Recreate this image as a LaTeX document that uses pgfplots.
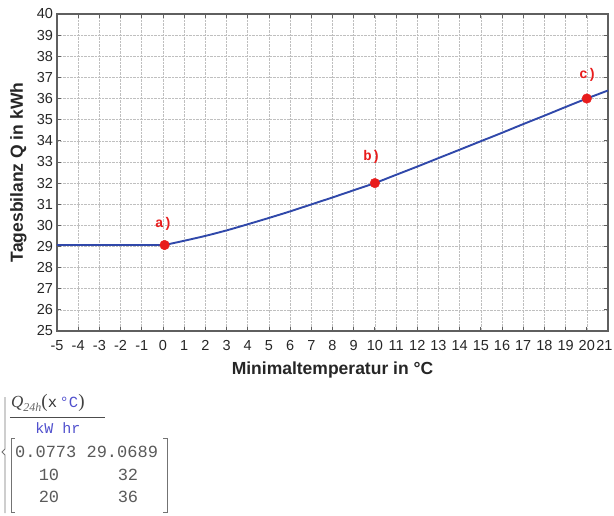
\documentclass[border=0pt]{standalone}
\usepackage{fontspec}
\setmainfont{Liberation Sans}
\newfontfamily\mono{Liberation Mono}
\newfontfamily\seriff{Liberation Serif}
\usepackage{pgfplots}
\pgfplotsset{compat=1.18}
\definecolor{curve}{RGB}{48,72,170}
\definecolor{ptred}{RGB}{232,28,28}
\definecolor{mcblue}{RGB}{80,80,205}
\definecolor{mcgray}{RGB}{90,90,90}
\definecolor{axgray}{RGB}{95,95,95}
\begin{document}
\begin{tikzpicture}
\begin{axis}[
  scale only axis, width=551pt, height=317pt,
  xmin=-5, xmax=21, ymin=25, ymax=40,
  xtick={-5,-4,...,21}, ytick={25,26,...,40},
  xticklabels={-5,-4,-3,-2,-1,0,1,2,3,4,5,6,7,8,9,10,11,12,13,14,15,16,17,18,19,20,{\hspace*{-7pt}21}},
  grid=major,
  major grid style={densely dotted, draw=black!25, line width=0.6pt},
  tick align=inside, major tick length=4pt,
  xtick pos=both, ytick pos=both,
  axis line style={draw=axgray, line width=1.3pt},
  tick style={draw=axgray, line width=0.8pt},
  /pgf/number format/assume math mode=true,
  tick label style={font=\fontsize{14.5}{15}\selectfont, text=black!85},
  xticklabel style={yshift=-6pt},
  yticklabel style={xshift=-0.5pt},
  xlabel={Minimaltemperatur in °C},
  ylabel={Tagesbilanz Q in kWh},
  label style={font=\fontsize{17.5}{18}\selectfont\bfseries, text=black!85},
  xlabel style={at={(axis description cs:0.5,-39/317)}, anchor=center},
  ylabel style={at={(axis description cs:-38.5/551,0.5)}, anchor=center},
  clip=false,
]
\addplot[curve, line width=1.9pt] coordinates {
  (-5,29.0689) (0.0773,29.0689)
};
\addplot[curve, line width=1.9pt, smooth, tension=0.5] coordinates {
  (0.0773,29.0689) (1,29.27) (2,29.50) (3,29.76) (4,30.05)
  (5,30.35) (6,30.66) (7,30.99) (8,31.32) (9,31.66) (10,32.0)
  (11,32.39) (12,32.78) (13,33.18) (14,33.58) (15,33.98) (16,34.38)
  (17,34.79) (18,35.19) (19,35.60) (20,36.0) (21,36.38)
};
\addplot[only marks, mark=*, mark size=4.8pt, draw=ptred, fill=ptred] coordinates {
  (0.0773,29.0689) (10,32) (20,36)
};
\node[text=ptred, font=\mono\bfseries\fontsize{14}{14}\selectfont, xshift=-1pt, yshift=21pt] at (axis cs:0.0773,29.0689) {a)};
\node[text=ptred, font=\mono\bfseries\fontsize{14}{14}\selectfont, xshift=-3pt, yshift=26pt] at (axis cs:10,32) {b)};
\node[text=ptred, font=\mono\bfseries\fontsize{14}{14}\selectfont, xshift=1pt, yshift=24pt] at (axis cs:20,36) {c)};
\end{axis}
% Mathcad-style result block below the chart
\draw[black!55, line width=0.8pt] (-52pt,-66pt) -- (-52pt,-118pt) -- (-55pt,-121pt) -- (-52pt,-124pt) -- (-52pt,-182pt);
\node[anchor=west, inner sep=0pt] at (-46pt,-72pt) {{\seriff\itshape\fontsize{17}{17}\selectfont\color{black!75}Q}\raisebox{-4pt}{\seriff\itshape\fontsize{12}{12}\selectfont\color{black!60}24h}{\seriff\fontsize{19}{19}\selectfont\color{black!75}(}{\mono\fontsize{15.5}{15.5}\selectfont\color{black!80}x\,}{\mono\fontsize{15.5}{15.5}\selectfont\color{mcblue}°C}{\seriff\fontsize{19}{19}\selectfont\color{black!75})}};
\draw[black!70, line width=0.8pt] (-47pt,-86pt) -- (48pt,-86pt);
\node[inner sep=0pt, text=mcblue, font=\mono\fontsize{15}{15}\selectfont] at (1pt,-97pt) {kW hr};
\draw[black!55, line width=0.8pt] (-42pt,-107pt) -- (-46pt,-107pt) -- (-46pt,-181pt) -- (-42pt,-181pt);
\draw[black!55, line width=0.8pt] (106pt,-107pt) -- (110pt,-107pt) -- (110pt,-181pt) -- (106pt,-181pt);
\node[anchor=west, inner sep=0pt, text=mcgray, font=\mono\fontsize{17}{17}\selectfont] at (-42pt,-121pt) {0.0773 29.0689};
\node[inner sep=0pt, text=mcgray, font=\mono\fontsize{17}{17}\selectfont] at (-8pt,-144pt) {10};
\node[inner sep=0pt, text=mcgray, font=\mono\fontsize{17}{17}\selectfont] at (71pt,-144pt) {32};
\node[inner sep=0pt, text=mcgray, font=\mono\fontsize{17}{17}\selectfont] at (-8pt,-166pt) {20};
\node[inner sep=0pt, text=mcgray, font=\mono\fontsize{17}{17}\selectfont] at (71pt,-166pt) {36};
\pgfresetboundingbox
\path[use as bounding box] (-57pt,-184pt) rectangle (557pt,331pt);
\end{tikzpicture}
\end{document}
